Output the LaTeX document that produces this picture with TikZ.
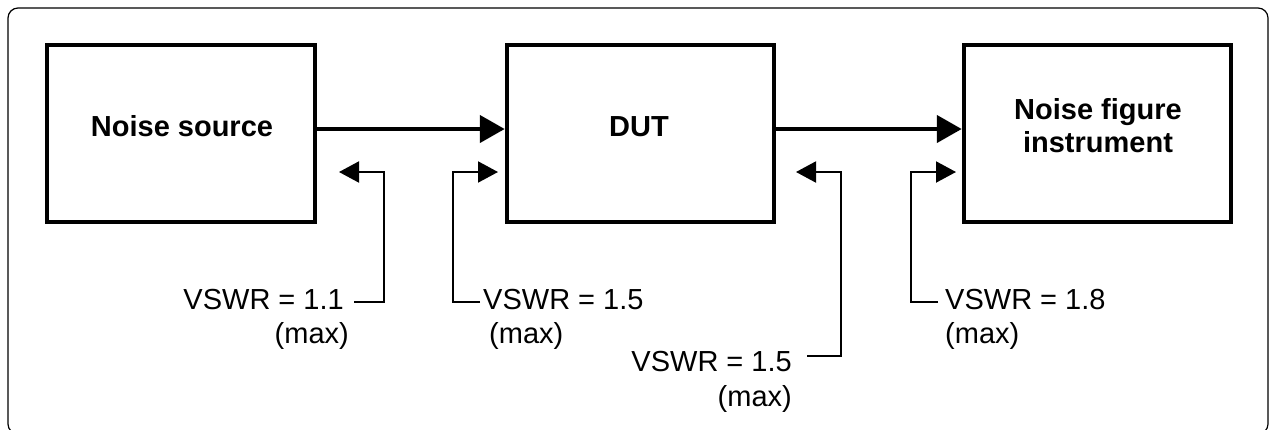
\documentclass[tikz,border=0pt]{standalone}
\usepackage{fontspec}
\setmainfont{Liberation Sans}
\usetikzlibrary{arrows.meta}
\tikzset{
  blockbox/.style={draw=black, line width=4.5pt, minimum height=177pt, inner sep=0pt},
  boxtext/.style={font=\fontsize{29}{33}\selectfont\bfseries, inner sep=0pt, align=center},
  vlabel/.style={font=\fontsize{29}{33}\selectfont, inner sep=0pt},
  mainarrow/.style={line width=4.5pt, -{Triangle[length=25pt,width=27pt]}},
  feedarrow/.style={line width=2pt, -{Triangle[length=20pt,width=21pt]}},
  frame/.style={draw=black, line width=1.2pt, rounded corners=10pt}
}
\begin{document}
\begin{tikzpicture}[x=1pt,y=-1pt]
\useasboundingbox (0,0) rectangle (1269,429);
\fill[white] (0,0) rectangle (1269,429);
\begin{scope}
\clip (0,0) rectangle (1269,429);
\draw[frame] (8,8) rectangle (1268,434);
\end{scope}

% blocks
\node[blockbox, minimum width=268pt] (ns) at (181,133.5) {};
\node[blockbox, minimum width=267pt] (dut) at (640.5,133.5) {};
\node[blockbox, minimum width=267pt] (nfi) at (1097.5,133.5) {};

\node[boxtext, anchor=base] (tns) at (182,136) {Noise source};
\node[boxtext, anchor=base] (tdut) at (639,136) {DUT};
\node[boxtext] (tnfi) at (1098,126) {Noise figure\\instrument};

% main signal arrows
\draw[mainarrow] ([yshift=4.5pt]ns.east) -- ([yshift=4.5pt]dut.west);
\draw[mainarrow] ([yshift=4.5pt]dut.east) -- ([yshift=4.5pt]nfi.west);

% VSWR labels
\node[vlabel, anchor=base east] (v1) at (344,309) {VSWR = 1.1};
\node[vlabel, anchor=base east] (m1) at (349,343) {(max)};
\node[vlabel, anchor=base west] (v2) at (483,309) {VSWR = 1.5};
\node[vlabel, anchor=base west] (m2) at (489,343) {(max)};
\node[vlabel, anchor=base east] (v3) at (792,371) {VSWR = 1.5};
\node[vlabel, anchor=base east] (m3) at (792,406) {(max)};
\node[vlabel, anchor=base west] (v4) at (945,309) {VSWR = 1.8};
\node[vlabel, anchor=base west] (m4) at (945,343) {(max)};

% corners and arrow tips
\coordinate (k1) at (384,302); \coordinate (t1) at (339,172);
\coordinate (k2) at (453,302); \coordinate (t2) at (498,172);
\coordinate (k3) at (841,356); \coordinate (t3) at (796,172);
\coordinate (k4) at (911,302); \coordinate (t4) at (956,172);

\draw[feedarrow] ([xshift=10pt]v1.east |- k1) -- (k1) |- (t1);
\draw[feedarrow] ([xshift=-3pt]v2.west |- k2) -- (k2) |- (t2);
\draw[feedarrow] ([xshift=15pt]v3.east |- k3) -- (k3) |- (t3);
\draw[feedarrow] ([xshift=-7pt]v4.west |- k4) -- (k4) |- (t4);
\end{tikzpicture}
\end{document}
